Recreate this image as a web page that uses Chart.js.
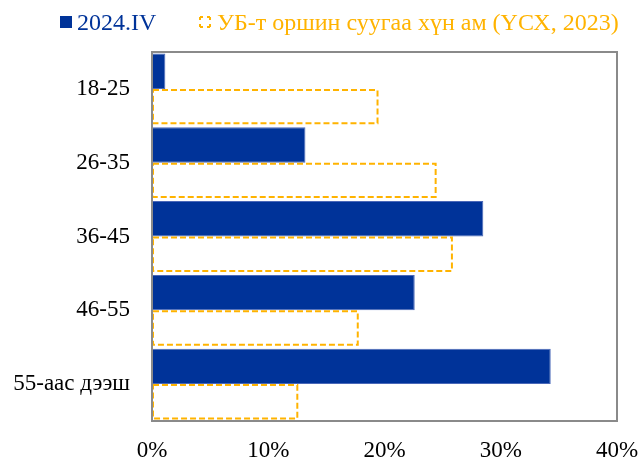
<!DOCTYPE html>
<html>
<head>
<meta charset="utf-8">
<script src="https://cdn.jsdelivr.net/npm/chart.js@4/dist/chart.umd.min.js"></script>
<style>
  html, body { margin: 0; padding: 0; background: #fff; }
  #wrap { position: relative; width: 638px; height: 458px; }
  #legend { position: absolute; left: 0; top: 0; width: 638px; height: 40px;
            font-family: "Liberation Serif", serif; font-size: 24px; }
  .box { position: absolute; top: 16px; width: 12px; height: 12px; }
  .txt { position: absolute; top: 7px; line-height: 30px; white-space: nowrap; }
</style>
</head>
<body>
<div id="wrap">
  <div id="legend"></div>
  <canvas id="ageChart"></canvas>
</div>
<script>
// Age groups
let ageGroups = ["18-25", "26-35", "36-45", "46-55", "55-аас дээш"];

// Series values, %
let survey2024 = [1.15, 13.2, 28.5, 22.6, 34.3];
let population2023 = [19.4, 24.4, 25.8, 17.7, 12.5];

let seriesNames = ["2024.IV", "УБ-т оршин суугаа хүн ам (ҮСХ, 2023)"];

// x axis tick labels
let xTickLabels = ["0%", "10%", "20%", "30%", "40%"];

let blue = "#003399";
let orange = "#FFB300";

// legend above the chart
let legend = document.getElementById("legend");
legend.innerHTML =
    '<div class="box" style="left:60px;background:' + blue + '"></div>' +
    '<div class="txt" style="left:77px;color:' + blue + '">' + seriesNames[0] + '</div>' +
    '<svg class="box" style="left:199px" width="12" height="12">' +
    '<rect x="1" y="1" width="10" height="10" fill="none" stroke="' + orange + '" stroke-width="2" stroke-dasharray="3,4,3,0"/></svg>' +
    '<div class="txt" style="left:217px;color:' + orange + '">' + seriesNames[1] + '</div>';

// dashed outline for the second series + grey frame
let outlines = {
    id: "outlines",
    afterDatasetsDraw(chart){
        let ctx = chart.ctx;
        let meta = chart.getDatasetMeta(1);
        ctx.save();
        ctx.strokeStyle = orange;
        ctx.lineWidth = 2;
        ctx.setLineDash([6, 3]);
        meta.data.forEach(function(bar){
            let p = bar.getProps(["x", "y", "base", "height"], true);
            let top = p.y - p.height / 2;
            ctx.strokeRect(p.base + 1, top + 1, p.x - p.base - 1, p.height - 2);
        });
        ctx.setLineDash([]);
        let a = chart.chartArea;
        ctx.strokeStyle = "#8a8a8a";
        ctx.lineWidth = 2;
        ctx.strokeRect(a.left, a.top, a.right - a.left, a.bottom - a.top);
        ctx.restore();
    }
};

let ctx = document.getElementById("ageChart").getContext("2d");

new Chart(ctx, {
    type: "bar",
    data: {
        labels: ageGroups,
        datasets: [{
            label: seriesNames[0],
            data: survey2024,
            backgroundColor: blue,
            borderColor: "#4a68b8",
            borderWidth: 1,
            borderSkipped: false
        }, {
            label: seriesNames[1],
            data: population2023,
            backgroundColor: "#ffffff",
            borderWidth: 0
        }]
    },
    options: {
        indexAxis: "y",
        responsive: true,
        maintainAspectRatio: false,
        animation: false,
        datasets: {
            bar: { categoryPercentage: 0.96, barPercentage: 1 }
        },
        layout: { padding: { left: 0, right: 21, top: 52, bottom: 0 } },
        plugins: {
            tooltip: { enabled: false },
            legend: { display: false }
        },
        scales: {
            x: {
                min: 0,
                max: 40,
                ticks: {
                    stepSize: 10,
                    color: "#000",
                    padding: 8,
                    font: { family: "Liberation Serif", size: 23 },
                    callback: function(v, i){ return xTickLabels[i]; }
                },
                grid: { display: false },
                border: { display: false },
                afterFit: function(axis){
                    axis.height = 37;
                    axis.paddingLeft = 0;
                    axis.paddingRight = 0;
                }
            },
            y: {
                ticks: {
                    color: "#000",
                    padding: 14,
                    font: { family: "Liberation Serif", size: 23 }
                },
                grid: { display: false },
                border: { display: false },
                afterFit: function(axis){
                    axis.width = 152;
                    axis.paddingTop = 0;
                    axis.paddingBottom = 0;
                }
            }
        }
    },
    plugins: [outlines]
});
</script>
</body>
</html>
